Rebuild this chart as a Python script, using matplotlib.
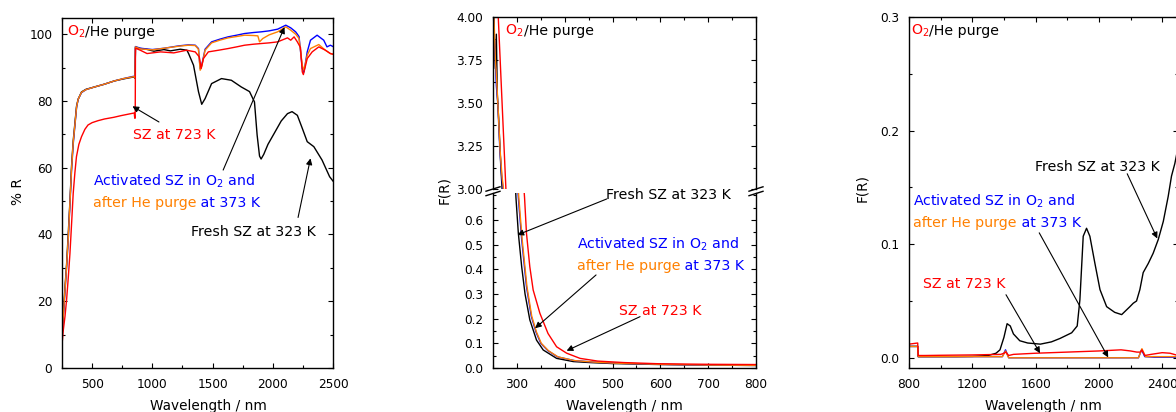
import matplotlib
matplotlib.use("Agg")
import matplotlib.pyplot as plt
from matplotlib.lines import Line2D
from matplotlib.ticker import MultipleLocator, FixedLocator

plt.rcParams['font.family'] = ['DejaVu Sans']
plt.rcParams['mathtext.fontset'] = 'dejavusans'

RED = '#ff0000'
BLUE = '#0000ff'
ORANGE = '#ff8000'
BLACK = '#000000'

# ---- panel 1 : % R, 250-2500 nm ----
r_black_wl = [250, 261, 275, 288, 302, 316, 329, 343, 357, 371, 384, 412, 450, 521, 600, 685, 760, 833, 850, 856,
              860, 880, 950, 1013, 1096, 1150, 1232, 1287, 1301, 1342, 1383, 1410, 1438, 1492, 1574, 1656, 1738,
              1807, 1848, 1870, 1890, 1903, 1925, 1960, 2012, 2070, 2122, 2160, 2204, 2245, 2286, 2341, 2409, 2472, 2500]
r_black = [10.5, 16.4, 24.3, 31, 40.3, 50, 60.3, 68, 73.3, 78.5, 80.5, 82.7, 83.5, 84.2, 85, 86, 86.6, 87.1, 87.2, 86.8,
           96.2, 95.8, 95.5, 94.9, 95.4, 95, 95.5, 95.2, 94.2, 90.7, 82.8, 79, 80.7, 85.2, 86.7, 86.2, 84.2,
           82.8, 79.7, 69.8, 63.5, 62.6, 64, 67, 70.3, 74, 76.2, 76.8, 75.7, 71.8, 67.8, 66.3, 62.3, 57.3, 56]

r_blue_wl = [250, 261, 275, 288, 302, 316, 329, 343, 357, 371, 384, 412, 450, 521, 600, 685, 760, 833, 850, 856,
             860, 900, 1000, 1100, 1219, 1300, 1356, 1383, 1397, 1410, 1438, 1492, 1560, 1629, 1700, 1766, 1840,
             1903, 1970, 2040, 2108, 2149, 2190, 2218, 2245, 2259, 2286, 2313, 2368, 2423, 2450, 2478, 2500]
r_blue = [10, 15.5, 23, 30, 38.5, 49, 59, 67, 72.5, 78, 80.5, 82.5, 83.4, 84.2, 85, 86, 86.7, 87.3, 87.4, 87,
          96.3, 95.8, 95.4, 95.8, 96.5, 96.8, 96.7, 95.7, 89.7, 90.7, 95.5, 97.7, 98.5, 99.2, 99.7, 100.2, 100.5,
          100.7, 101, 101.5, 102.7, 101.9, 100.7, 99.3, 89.7, 88.7, 94.7, 98.2, 99.7, 98.2, 96.2, 96.7, 96.3]

r_orange_wl = [250, 261, 275, 288, 302, 316, 329, 343, 357, 371, 384, 412, 450, 521, 600, 685, 760, 833, 850, 856,
               860, 900, 1000, 1100, 1219, 1300, 1356, 1383, 1397, 1410, 1438, 1492, 1560, 1629, 1700, 1766, 1840,
               1876, 1890, 1917, 1970, 2040, 2108, 2149, 2190, 2218, 2245, 2259, 2286, 2313, 2382, 2437, 2478, 2500]
r_orange = [10.2, 15.8, 23.5, 30.5, 39, 49.5, 59.5, 67.5, 72.8, 78.2, 80.5, 82.6, 83.4, 84.2, 85, 86, 86.7, 87.2, 87.3, 86.9,
            96.2, 95.6, 95.3, 95.8, 96.4, 96.7, 96.6, 95.5, 89.2, 90.3, 95.2, 97.4, 98.2, 98.9, 99.3, 99.7, 99.6,
            99.5, 97.7, 98.7, 99.8, 100.7, 102.2, 101.2, 100, 98.7, 90.7, 89.2, 93.7, 95.7, 96.9, 95.2, 94.2, 94]

r_red_wl = [250, 261, 275, 288, 302, 316, 330, 343, 357, 370, 390, 412, 440, 466, 500, 550, 603, 680, 740, 822,
            850, 853, 856, 858, 860, 900, 956, 1068, 1178, 1285, 1356, 1390, 1405, 1424, 1465, 1550, 1629, 1700,
            1766, 1840, 1903, 1970, 2040, 2122, 2149, 2177, 2204, 2230, 2245, 2254, 2286, 2327, 2382, 2437, 2478, 2500]
r_red = [7, 11.4, 15.5, 20.4, 27, 34.3, 43.5, 52.3, 58.5, 63.3, 67, 69.3, 71.5, 72.8, 73.5, 74.1, 74.6, 75.1, 75.6, 76.2,
         76.4, 75.2, 74.8, 77, 95.8, 95.2, 94.2, 94.7, 94.4, 95.2, 94.7, 93.2, 89.7, 92.7, 94.7, 95.2, 95.7, 96.2,
         96.7, 97, 97.2, 97.4, 97.7, 98.9, 98.2, 99.2, 97.7, 96, 88.7, 87.9, 92.7, 94.7, 96.2, 95.2, 94.2, 94]

# ---- panel 2 : F(R), 250-800 nm ----
uv_black_wl = [251, 253, 255, 257, 259, 262, 266, 269, 280, 290, 298, 303, 310, 317, 327, 341, 355, 383, 418, 453, 500, 600, 700, 800]
uv_black = [4.1, 3.85, 3.7, 3.9, 3.55, 3.4, 3.15, 3.0, 1.8, 1.05, 0.69, 0.546, 0.41, 0.30, 0.195, 0.113, 0.073, 0.039,
            0.026, 0.022, 0.018, 0.014, 0.012, 0.010]
uv_blue_wl = [251, 254, 257, 260, 264, 268, 271, 285, 295, 303, 310, 320, 330, 340, 350, 365, 385, 420, 460, 500, 600, 700, 800]
uv_blue = [4.05, 3.8, 3.6, 3.5, 3.25, 3.08, 3.0, 1.6, 0.95, 0.69, 0.52, 0.33, 0.21, 0.145, 0.10, 0.07, 0.045, 0.03,
           0.024, 0.02, 0.015, 0.012, 0.011]
uv_orange_wl = [252, 255, 258, 261, 265, 269, 272, 285, 295, 304, 311, 321, 331, 341, 351, 366, 386, 420, 460, 500, 600, 700, 800]
uv_orange = [4.0, 3.75, 3.62, 3.45, 3.22, 3.07, 3.0, 1.6, 0.95, 0.69, 0.52, 0.33, 0.21, 0.145, 0.10, 0.07, 0.045, 0.03,
             0.024, 0.02, 0.015, 0.012, 0.011]
uv_red_wl = [258, 261, 269, 277, 290, 305, 316, 320, 327, 334, 348, 365, 383, 404, 432, 469, 524, 600, 700, 800]
uv_red = [4.2, 4.0, 3.5, 3.0, 1.8, 1.0, 0.69, 0.546, 0.41, 0.316, 0.222, 0.14, 0.086, 0.06, 0.039, 0.028, 0.022,
          0.017, 0.015, 0.014]
uv_low_ticks = [0.0, 0.1, 0.2, 0.3, 0.4, 0.5, 0.6]

# ---- panel 3 : F(R), 800-2500 nm ----
nir_black_wl = [800, 855, 858, 900, 1000, 1100, 1200, 1300, 1350, 1375, 1400, 1420, 1440, 1460, 1500, 1550, 1630, 1700,
                1754, 1828, 1863, 1880, 1901, 1922, 1943, 1975, 2007, 2049, 2100, 2144, 2196, 2217, 2238, 2259, 2280,
                2312, 2343, 2375, 2407, 2438, 2459, 2480, 2500]
nir_black = [0.010, 0.010, 0.001, 0.001, 0.001, 0.001, 0.0012, 0.002, 0.004, 0.007, 0.018, 0.030, 0.028, 0.021, 0.015,
             0.013, 0.012, 0.014, 0.017, 0.022, 0.028, 0.051, 0.107, 0.114, 0.107, 0.083, 0.060, 0.045, 0.040, 0.038,
             0.045, 0.048, 0.050, 0.060, 0.075, 0.083, 0.092, 0.104, 0.120, 0.142, 0.160, 0.171, 0.185]
nir_blue_wl = [800, 855, 858, 1000, 1390, 1410, 1430, 1500, 2250, 2270, 2290, 2350, 2500]
nir_blue = [0.010, 0.010, 0.001, 0.001, 0.001, 0.007, 0.0, 0.0, 0.0, 0.007, 0.001, 0.0005, 0.0005]
nir_orange_wl = [800, 855, 858, 1000, 1390, 1410, 1430, 1500, 2250, 2272, 2295, 2350, 2500]
nir_orange = [0.010, 0.010, 0.001, 0.001, 0.001, 0.006, 0.0, 0.0, 0.0, 0.008, 0.001, 0.001, 0.001]
nir_red_wl = [800, 855, 858, 900, 1000, 1200, 1380, 1400, 1412, 1430, 1460, 1600, 1800, 2000, 2140, 2200, 2240, 2262,
              2272, 2290, 2330, 2400, 2450, 2500]
nir_red = [0.012, 0.013, 0.002, 0.002, 0.0022, 0.0025, 0.003, 0.004, 0.005, 0.002, 0.003, 0.004, 0.005, 0.006, 0.007,
           0.006, 0.005, 0.005, 0.007, 0.002, 0.003, 0.0045, 0.004, 0.002]

FS_TICK = 8.7
FS_NOTE = 10.2
FS_LABEL = 9.8
W, H = 1176, 412


def px_axes(x0, y0, x1, y1):
    # pixel box (from top-left) -> figure fraction
    return [x0 / W, 1 - y1 / H, (x1 - x0) / W, (y1 - y0) / H]


def style(ax):
    ax.tick_params(which='both', direction='in', top=True, right=True, labelsize=FS_TICK, width=0.8)
    ax.tick_params(which='major', length=3.8)
    ax.tick_params(which='minor', length=2.2)
    ax.tick_params(axis='y', pad=7)
    ax.tick_params(axis='x', pad=7)
    for s in ax.spines.values():
        s.set_linewidth(1.0)


def multicolor(ax, x, y, parts, size=FS_NOTE):
    t = ax.text(x, y, parts[0][0], color=parts[0][1], fontsize=size, transform=ax.transAxes, va='baseline')
    for s, c in parts[1:]:
        t = ax.annotate(s, xy=(1, y), xycoords=(t, ax.transAxes), color=c, fontsize=size, va='baseline', ha='left')


def arrow(ax, tail, head):
    ax.annotate('', xy=head, xytext=tail,
                arrowprops=dict(arrowstyle='-|>', color='black', lw=0.8, mutation_scale=9, shrinkA=0, shrinkB=0))


fig = plt.figure(figsize=(W / 100, H / 100), dpi=100)

# ---------------- left panel ----------------
ax1 = fig.add_axes(px_axes(62, 17.5, 333, 368))
ax1.plot(r_black_wl, r_black, color=BLACK, lw=1.0)
ax1.plot(r_blue_wl, r_blue, color=BLUE, lw=1.0)
ax1.plot(r_orange_wl, r_orange, color=ORANGE, lw=1.0)
ax1.plot(r_red_wl, r_red, color=RED, lw=1.0)
ax1.set_xlim(250, 2500)
ax1.set_ylim(0, 105)
ax1.xaxis.set_major_locator(MultipleLocator(500))
ax1.xaxis.set_minor_locator(MultipleLocator(250))
ax1.yaxis.set_major_locator(MultipleLocator(20))
ax1.yaxis.set_minor_locator(MultipleLocator(10))
style(ax1)
multicolor(ax1, 0.017, 0.948, [('O$_2$', RED), ('/He purge', BLACK)])
ax1.text(0.263, 0.653, 'SZ at 723 K', color=RED, fontsize=FS_NOTE, transform=ax1.transAxes, va='baseline')
ax1.text(0.114, 0.520, 'Activated SZ in O$_2$ and', color=BLUE, fontsize=FS_NOTE, transform=ax1.transAxes, va='baseline')
multicolor(ax1, 0.114, 0.458, [('after He purge', ORANGE), (' at 373 K', BLUE)])
ax1.text(0.477, 0.377, 'Fresh SZ at 323 K', color=BLACK, fontsize=FS_NOTE, transform=ax1.transAxes, va='baseline')
arrow(ax1, (1055, 73.7), (835, 78.4))
arrow(ax1, (1588, 59.3), (2097, 102.1))
arrow(ax1, (2210, 45.1), (2313, 62.8))
fig.text(18 / W, 1 - 192 / H, '% R', rotation=90, ha='center', va='center', fontsize=FS_LABEL)
fig.text(208 / W, 1 - 410 / H, 'Wavelength / nm', ha='center', va='baseline', fontsize=FS_LABEL)

# ---------------- middle panel (broken y axis) ----------------
ax2t = fig.add_axes(px_axes(493, 17, 756, 189))
ax2b = fig.add_axes(px_axes(493, 193, 756, 368))
for ax in (ax2t, ax2b):
    ax.plot(uv_black_wl, uv_black, color=BLACK, lw=1.0)
    ax.plot(uv_blue_wl, uv_blue, color=BLUE, lw=1.0)
    ax.plot(uv_orange_wl, uv_orange, color=ORANGE, lw=1.0)
    ax.plot(uv_red_wl, uv_red, color=RED, lw=1.0)
    ax.set_xlim(250, 800)
    ax.xaxis.set_major_locator(MultipleLocator(100))
    ax.xaxis.set_minor_locator(MultipleLocator(50))
    style(ax)
ax2t.set_ylim(3.0, 4.0)
ax2t.yaxis.set_major_locator(MultipleLocator(0.25))
ax2t.yaxis.set_minor_locator(MultipleLocator(0.125))
ax2t.yaxis.set_major_formatter(plt.FormatStrFormatter('%.2f'))
ax2t.spines['bottom'].set_visible(False)
ax2t.tick_params(which='both', bottom=False, labelbottom=False)
ax2b.set_ylim(0, 0.709)
ax2b.yaxis.set_major_locator(FixedLocator(uv_low_ticks))
ax2b.yaxis.set_minor_locator(MultipleLocator(0.05))
ax2b.yaxis.set_major_formatter(plt.FormatStrFormatter('%.1f'))
ax2b.spines['top'].set_visible(False)
ax2b.tick_params(which='both', top=False)
multicolor(ax2t, 0.047, 0.895, [('O$_2$', RED), ('/He purge', BLACK)])
ax2b.text(0.430, 0.966, 'Fresh SZ at 323 K', color=BLACK, fontsize=FS_NOTE, transform=ax2b.transAxes, va='baseline')
ax2b.text(0.319, 0.684, 'Activated SZ in O$_2$ and', color=BLUE, fontsize=FS_NOTE, transform=ax2b.transAxes, va='baseline')
multicolor(ax2b, 0.319, 0.560, [('after He purge', ORANGE), (' at 373 K', BLUE)])
ax2b.text(0.480, 0.303, 'SZ at 723 K', color=RED, fontsize=FS_NOTE, transform=ax2b.transAxes, va='baseline')
arrow(ax2b, (488, 0.685), (301, 0.539))
arrow(ax2b, (465.5, 0.377), (338, 0.161))
arrow(ax2b, (557.5, 0.208), (404, 0.070))
# break marks on both spines
for xs in (493, 756):
    for yc in (189, 193.5):
        fig.add_artist(Line2D([(xs - 7) / W, (xs + 7) / W], [1 - (yc + 2.2) / H, 1 - (yc - 2.2) / H],
                              color='black', lw=1.0, transform=fig.transFigure))
fig.text(444 / W, 1 - 190 / H, 'F(R)', rotation=90, ha='center', va='center', fontsize=FS_LABEL)
fig.text(624.5 / W, 1 - 410 / H, 'Wavelength / nm', ha='center', va='baseline', fontsize=FS_LABEL)

# ---------------- right panel ----------------
ax3 = fig.add_axes(px_axes(909, 17, 1178, 368))
ax3.plot(nir_black_wl, nir_black, color=BLACK, lw=1.0)
ax3.plot(nir_blue_wl, nir_blue, color=BLUE, lw=1.0)
ax3.plot(nir_orange_wl, nir_orange, color=ORANGE, lw=1.0)
ax3.plot(nir_red_wl, nir_red, color=RED, lw=1.0)
ax3.set_xlim(800, 2500)
ax3.set_ylim(-0.009, 0.3)
ax3.xaxis.set_major_locator(MultipleLocator(400))
ax3.xaxis.set_minor_locator(MultipleLocator(200))
ax3.yaxis.set_major_locator(MultipleLocator(0.1))
ax3.yaxis.set_minor_locator(MultipleLocator(0.05))
ax3.yaxis.set_major_formatter(plt.FormatStrFormatter('%.1f'))
style(ax3)
multicolor(ax3, 0.006, 0.949, [('O$_2$', RED), ('/He purge', BLACK)])
ax3.text(0.468, 0.562, 'Fresh SZ at 323 K', color=BLACK, fontsize=FS_NOTE, transform=ax3.transAxes, va='baseline')
ax3.text(0.016, 0.462, 'Activated SZ in O$_2$ and', color=BLUE, fontsize=FS_NOTE, transform=ax3.transAxes, va='baseline')
multicolor(ax3, 0.016, 0.401, [('after He purge', ORANGE), (' at 373 K', BLUE)])
ax3.text(0.051, 0.227, 'SZ at 723 K', color=RED, fontsize=FS_NOTE, transform=ax3.transAxes, va='baseline')
arrow(ax3, (2179, 0.162), (2369, 0.105))
arrow(ax3, (1623, 0.110), (2059, 0.0003))
arrow(ax3, (1413, 0.0555), (1628, 0.004))
fig.text(862 / W, 1 - 188 / H, 'F(R)', rotation=90, ha='center', va='center', fontsize=FS_LABEL)
fig.text(1043 / W, 1 - 410 / H, 'Wavelength / nm', ha='center', va='baseline', fontsize=FS_LABEL)

fig.savefig('out.png', dpi=100)
